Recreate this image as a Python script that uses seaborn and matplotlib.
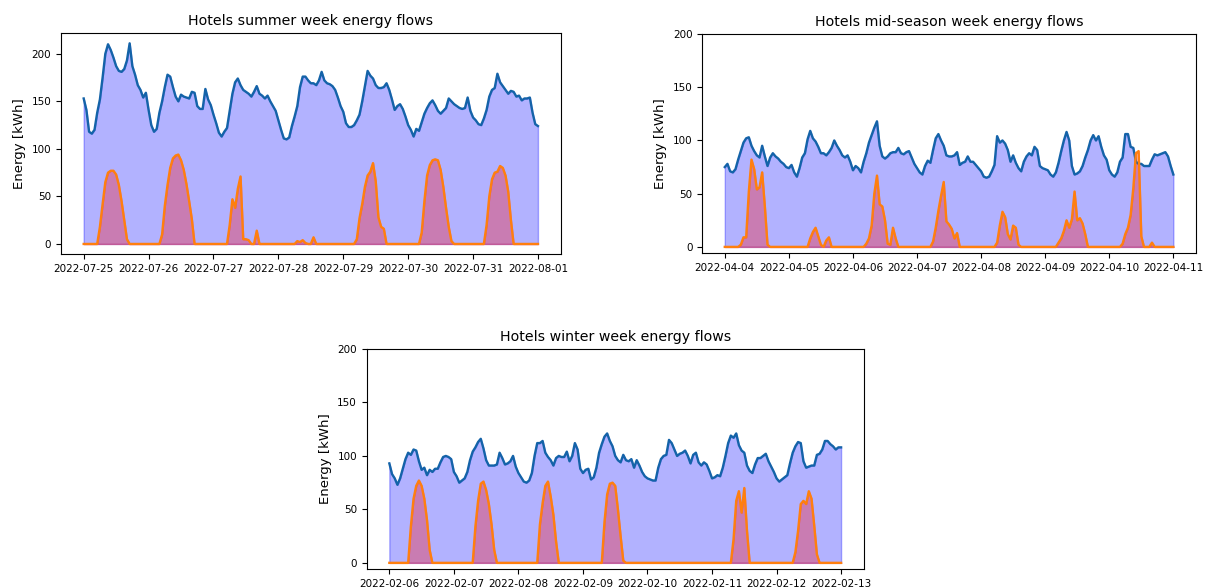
import numpy as np
import pandas as pd
import matplotlib
matplotlib.use("Agg")
import matplotlib.pyplot as plt
import matplotlib.dates as mdates
import seaborn as sns

# ---------------- data (hourly, 169 points per week) ----------------
summer_start = "2022-07-25"
summer_load = [
    153, 141, 118, 116, 120, 138, 152, 175, 200, 210, 204, 196, 187, 182, 181, 184, 193, 211, 187, 178, 167, 162, 154, 159,
    141, 125, 118, 121, 138, 150, 165, 178, 176, 165, 155, 150, 157, 155, 154, 153, 160, 159, 145, 142, 142, 163, 152, 146,
    136, 127, 117, 113, 118, 122, 140, 158, 170, 174, 167, 162, 160, 158, 155, 160, 166, 158, 156, 153, 156, 150, 145, 140,
    130, 120, 111, 110, 112, 124, 134, 145, 165, 176, 176, 172, 169, 169, 167, 172, 181, 172, 169, 168, 166, 162, 154, 145,
    139, 127, 123, 123, 125, 130, 136, 150, 166, 182, 177, 174, 167, 164, 164, 165, 169, 162, 152, 141, 145, 147, 142, 134,
    125, 120, 113, 121, 119, 128, 137, 143, 148, 151, 146, 140, 137, 140, 143, 153, 150, 147, 145, 143, 142, 143, 154, 140,
    133, 130, 126, 125, 132, 141, 155, 162, 164, 179, 170, 166, 162, 158, 161, 160, 155, 156, 151, 153, 153, 154, 138, 126,
    124,
]
summer_pv = [
    0, 0, 0, 0, 0, 0, 18, 42, 65, 75, 77, 77, 73, 62, 45, 25, 5, 0, 0, 0, 0, 0, 0, 0,
    0, 0, 0, 0, 0, 10, 40, 62, 80, 90, 93, 94, 88, 78, 63, 45, 26, 0, 0, 0, 0, 0, 0, 0,
    0, 0, 0, 0, 0, 0, 20, 47, 38, 58, 71, 5, 5, 4, 0, 0, 14, 0, 0, 0, 0, 0, 0, 0,
    0, 0, 0, 0, 0, 0, 0, 3, 2, 4, 1, 0, 0, 7, 0, 0, 0, 0, 0, 0, 0, 0, 0, 0,
    0, 0, 0, 0, 0, 5, 27, 42, 60, 72, 76, 85, 66, 28, 18, 16, 0, 0, 0, 0, 0, 0, 0, 0,
    0, 0, 0, 0, 0, 12, 45, 72, 83, 88, 89, 88, 78, 60, 38, 18, 3, 0, 0, 0, 0, 0, 0, 0,
    0, 0, 0, 0, 0, 20, 50, 68, 75, 76, 82, 80, 72, 55, 25, 0, 0, 0, 0, 0, 0, 0, 0, 0,
    0,
]

mid_start = "2022-04-04"
mid_load = [
    75, 78, 71, 70, 73, 82, 90, 98, 102, 103, 95, 90, 86, 84, 95, 85, 76, 84, 88, 85, 83, 80, 78, 75,
    74, 77, 70, 66, 74, 84, 88, 101, 109, 102, 99, 94, 88, 88, 86, 89, 93, 100, 95, 91, 86, 84, 86, 80,
    72, 76, 74, 70, 80, 88, 98, 105, 112, 118, 95, 85, 83, 85, 88, 89, 89, 93, 88, 87, 89, 90, 84, 78,
    74, 70, 68, 76, 81, 79, 91, 102, 106, 100, 95, 86, 85, 85, 86, 89, 77, 79, 80, 85, 80, 80, 77, 74,
    71, 66, 65, 66, 71, 77, 104, 98, 100, 97, 91, 80, 86, 79, 74, 71, 80, 85, 88, 86, 94, 91, 76, 74,
    73, 72, 68, 66, 70, 79, 90, 100, 108, 100, 76, 68, 69, 71, 76, 84, 91, 100, 105, 100, 104, 94, 86, 82,
    72, 68, 66, 70, 80, 84, 106, 106, 94, 93, 80, 78, 78, 76, 76, 76, 82, 87, 86, 87, 88, 89, 85, 76,
    68,
]
mid_pv = [
    0, 0, 0, 0, 0, 0, 2, 9, 9, 52, 82, 73, 54, 56, 70, 38, 2, 0, 0, 0, 0, 0, 0, 0,
    0, 0, 0, 0, 0, 0, 0, 0, 8, 14, 18, 10, 2, 0, 6, 9, 0, 0, 0, 0, 0, 0, 0, 0,
    0, 0, 0, 0, 0, 3, 8, 20, 50, 67, 40, 38, 25, 3, 2, 18, 8, 0, 0, 0, 0, 0, 0, 0,
    0, 0, 0, 0, 0, 0, 5, 18, 34, 48, 61, 24, 21, 17, 8, 13, 0, 0, 0, 0, 0, 0, 0, 0,
    0, 0, 0, 0, 0, 0, 4, 20, 33, 28, 12, 7, 20, 18, 2, 0, 0, 0, 0, 0, 0, 0, 0, 0,
    0, 0, 0, 0, 0, 4, 8, 15, 25, 18, 26, 52, 25, 27, 22, 12, 0, 0, 0, 0, 0, 0, 0, 0,
    0, 0, 0, 0, 0, 3, 12, 18, 30, 55, 88, 90, 10, 0, 0, 0, 4, 0, 0, 0, 0, 0, 0, 0,
    0,
]

winter_start = "2022-02-06"
winter_load = [
    93, 83, 79, 73, 79, 88, 97, 103, 101, 106, 105, 95, 87, 89, 82, 87, 85, 88, 88, 94, 99, 100, 99, 97,
    85, 81, 75, 77, 79, 85, 96, 104, 108, 113, 116, 107, 96, 91, 91, 91, 92, 103, 98, 92, 93, 95, 100, 90,
    84, 80, 76, 75, 77, 84, 100, 112, 112, 114, 103, 99, 96, 91, 98, 100, 99, 99, 104, 95, 100, 112, 106, 88,
    84, 87, 88, 78, 80, 89, 103, 111, 118, 121, 114, 109, 100, 96, 94, 101, 96, 95, 97, 89, 96, 91, 85, 81,
    79, 78, 77, 77, 89, 97, 100, 101, 115, 112, 106, 100, 102, 103, 105, 100, 93, 101, 103, 94, 91, 94, 92, 86,
    79, 80, 82, 81, 89, 100, 112, 119, 117, 121, 110, 105, 103, 91, 86, 84, 92, 98, 98, 100, 102, 95, 90, 85,
    79, 76, 78, 80, 82, 93, 103, 109, 113, 112, 95, 89, 90, 91, 91, 101, 102, 106, 114, 114, 111, 109, 106, 108,
    108,
]
winter_pv = [
    0, 0, 0, 0, 0, 0, 0, 0, 34, 60, 72, 77, 72, 60, 40, 12, 0, 0, 0, 0, 0, 0, 0, 0,
    0, 0, 0, 0, 0, 0, 0, 0, 34, 58, 74, 76, 68, 55, 36, 12, 0, 0, 0, 0, 0, 0, 0, 0,
    0, 0, 0, 0, 0, 0, 0, 0, 36, 56, 72, 76, 62, 45, 20, 0, 0, 0, 0, 0, 0, 0, 0, 0,
    0, 0, 0, 0, 0, 0, 0, 0, 38, 64, 74, 75, 72, 50, 25, 2, 0, 0, 0, 0, 0, 0, 0, 0,
    0, 0, 0, 0, 0, 0, 0, 0, 0, 0, 0, 0, 0, 0, 0, 0, 0, 0, 0, 0, 0, 0, 0, 0,
    0, 0, 0, 0, 0, 0, 0, 0, 22, 58, 67, 47, 70, 30, 0, 0, 0, 0, 0, 0, 0, 0, 0, 0,
    0, 0, 0, 0, 0, 0, 0, 10, 30, 55, 58, 55, 67, 60, 35, 8, 0, 0, 0, 0, 0, 0, 0, 0,
    0,
]

titles = [
    "Hotels summer week energy flows",
    "Hotels mid-season week energy flows",
    "Hotels winter week energy flows",
]
ylabel = "Energy [kWh]"

LOAD_COLOR = "#1463a8"
PV_COLOR = "#ff7f0e"

# ---------------- figure ----------------
fig = plt.figure(figsize=(12.12, 5.87), dpi=100)
ax_s = fig.add_axes([0.0503, 0.5673, 0.4123, 0.3760])
ax_m = fig.add_axes([0.5795, 0.5685, 0.4071, 0.3736])
ax_w = fig.add_axes([0.3026, 0.0302, 0.4100, 0.3753])

panels = [
    (ax_s, summer_start, summer_load, summer_pv, titles[0], None),
    (ax_m, mid_start, mid_load, mid_pv, titles[1], 200),
    (ax_w, winter_start, winter_load, winter_pv, titles[2], 200),
]

for ax, start, load, pv, title, ytop in panels:
    t = pd.date_range(start, periods=len(load), freq="h")
    df = pd.DataFrame({"time": t, "load": load, "pv": pv})
    ax.fill_between(df["time"], 0, df["load"], color="blue", alpha=0.3)
    ax.fill_between(df["time"], 0, df["pv"], color="red", alpha=0.3)
    sns.lineplot(data=df, x="time", y="load", ax=ax, color=LOAD_COLOR, linewidth=1.7)
    sns.lineplot(data=df, x="time", y="pv", ax=ax, color=PV_COLOR, linewidth=1.7)
    ax.set_title(title, fontsize=10.2)
    ax.set_ylabel(ylabel, fontsize=9.5)
    ax.set_xlabel("")
    ax.xaxis.set_major_locator(mdates.DayLocator())
    ax.xaxis.set_major_formatter(mdates.DateFormatter("%Y-%m-%d"))
    ax.tick_params(axis="both", labelsize=7.5)
    if ytop is not None:
        ax.set_ylim(-6, ytop)
        ax.set_yticks([0, 50, 100, 150, 200])

fig.savefig("out.png", dpi=100)
